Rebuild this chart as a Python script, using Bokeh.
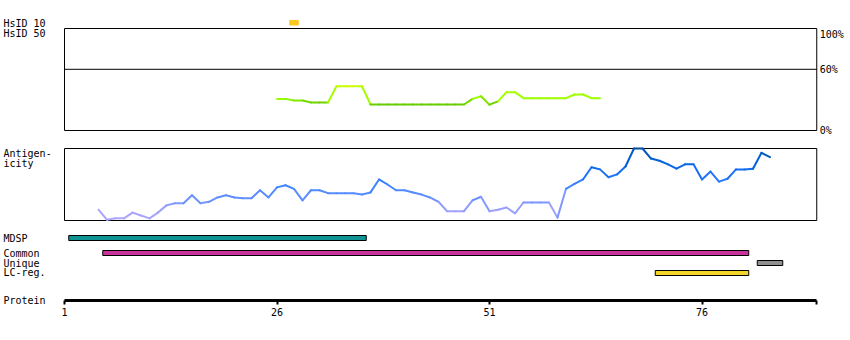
import numpy as np
from bokeh.plotting import figure
from bokeh.models import Range1d, LinearAxis, FixedTicker
from bokeh.core.properties import value
from bokeh.embed import file_html
from bokeh.resources import INLINE

# ---------------- data ----------------
protein_end = 89.5
axis_ticks = [1, 26, 51, 76]

hsid10_res = [28]

hsid50_res = list(range(26, 65))
hsid50_pct = [31, 31, 29.4, 29.4, 27.5, 27.5, 27.5, 43.4, 43.4, 43.4, 43.4,
              25.5, 25.5, 25.5, 25.5, 25.5, 25.5, 25.5, 25.5, 25.5, 25.5, 25.5, 25.5,
              31, 33.5, 25.3, 28.6, 37.6, 37.6, 31.7, 31.7, 31.7, 31.7, 31.7, 31.7,
              35.3, 35.3, 31.7, 31.7]

antigen_res = list(range(5, 85))
antigen_val = [15, 1, 3, 3, 11, 7, 3, 11, 21, 24,
               24, 35, 24, 26, 32, 35, 32, 31, 31, 42,
               32, 46, 49, 44, 28, 42, 42, 38, 38, 38,
               38, 36, 39, 57, 50, 42, 42, 39, 36, 32,
               26, 13, 13, 13, 28, 33, 13, 15, 18, 10,
               25, 25, 25, 25, 4, 44, 51, 57, 74, 71,
               60, 64, 75, 100, 100, 86, 83, 78, 72, 78,
               78, 57, 68, 54, 58, 71, 71, 72, 94, 88]

region_names = ["MDSP", "Common", "Unique", "LC-reg."]
region_start = [2, 6, 83, 71]
region_end = [36, 81, 85, 81]
region_colors = ["#109494", "#c8329b", "#909090", "#f2d42a"]

pct_ticks = [100, 60, 0]
pct_labels = ["100%", "60%", "0%"]

# ---------------- helpers ----------------
def hex2rgb(h):
    return [int(h[i:i + 2], 16) for i in (1, 3, 5)]

def interp_color(v, anchors):
    xs = [a[0] for a in anchors]
    cs = np.array([hex2rgb(a[1]) for a in anchors], dtype=float)
    rgb = [int(round(np.interp(v, xs, cs[:, k]))) for k in range(3)]
    return "#%02x%02x%02x" % tuple(rgb)

antigen_anchors = [(0, "#b0a8ff"), (12, "#a4a2ff"), (22, "#8a9aff"), (30, "#6690ff"),
                   (45, "#4a88ff"), (57, "#2a7aff"), (75, "#0a68e8"), (90, "#005ac8"),
                   (100, "#004c99")]
green_anchors = [(25, "#66cc00"), (28, "#70d400"), (31, "#99ff00"), (38, "#aaff00"), (44, "#ccff00")]

# ---------------- layout constants ----------------
PX_PER_RES = 8.5
X0_PX = 64
W, H = 850, 340

p = figure(width=W, height=H,
           x_range=Range1d(1 - X0_PX / PX_PER_RES, 1 + (W - X0_PX) / PX_PER_RES),
           y_range=Range1d(H, 0),
           output_backend="svg", toolbar_location=None, min_border=0,
           x_axis_location=None, y_axis_location=None)
p.xgrid.visible = False
p.ygrid.visible = False
p.outline_line_color = None
p.background_fill_color = "white"

# HsID panel: 0% at y=130, 100% at y=28 ; antigenicity: 0 at y=220, 100 at y=148
p.extra_y_ranges = {
    "hsid": Range1d((130 - H) / 1.02, 130 / 1.02),
    "antigen": Range1d((220 - H) / 0.72, 220 / 0.72),
}
p.extra_x_ranges = {"px": Range1d(0, W)}

FONT = value("DejaVu Sans Mono")
FS = value("10px")

# HsID 10 bar
p.quad(left=[r - 0.5 for r in hsid10_res], right=[r + 0.5 for r in hsid10_res],
       top=[20], bottom=[24.5], fill_color="#ffc820", line_color="#ffc820", line_width=1)

# HsID 50 panel box
p.quad(left=[1], right=[protein_end], bottom=[0], top=[100], y_range_name="hsid",
       fill_color=None, line_color="black", line_width=1)
p.segment(x0=[1], x1=[protein_end], y0=[60], y1=[60], y_range_name="hsid",
          line_color="black", line_width=1)

# HsID 50 line
gx0, gx1, gy0, gy1, gc = [], [], [], [], []
for i in range(len(hsid50_res) - 1):
    gx0.append(hsid50_res[i]); gx1.append(hsid50_res[i + 1])
    gy0.append(hsid50_pct[i]); gy1.append(hsid50_pct[i + 1])
    gc.append(interp_color((hsid50_pct[i] + hsid50_pct[i + 1]) / 2, green_anchors))
p.segment(x0=gx0, x1=gx1, y0=gy0, y1=gy1, y_range_name="hsid",
          line_color=gc, line_width=2, line_cap="round")

# percentage labels
p.text(x=[protein_end], y=[pct_ticks[0]], text=[pct_labels[0]], y_range_name="hsid",
       x_offset=3, text_font=FONT, text_font_size=FS, text_baseline="top", text_align="left")
p.text(x=[protein_end] * 2, y=pct_ticks[1:], text=pct_labels[1:], y_range_name="hsid",
       x_offset=3, text_font=FONT, text_font_size=FS, text_baseline="middle", text_align="left")

# Antigenicity panel box
p.quad(left=[1], right=[protein_end], bottom=[0], top=[100], y_range_name="antigen",
       fill_color=None, line_color="black", line_width=1)

ax0, ax1, ay0, ay1, ac = [], [], [], [], []
for i in range(len(antigen_res) - 1):
    ax0.append(antigen_res[i]); ax1.append(antigen_res[i + 1])
    ay0.append(antigen_val[i]); ay1.append(antigen_val[i + 1])
    ac.append(interp_color((antigen_val[i] + antigen_val[i + 1]) / 2, antigen_anchors))
p.segment(x0=ax0, x1=ax1, y0=ay0, y1=ay1, y_range_name="antigen",
          line_color=ac, line_width=2, line_cap="round")

# Region bars
bar_tops = [235, 250, 260, 270]
bar_h = 5
p.quad(left=[s - 0.5 for s in region_start], right=[e + 0.5 for e in region_end],
       top=bar_tops, bottom=[t + bar_h for t in bar_tops],
       fill_color=region_colors, line_color="black", line_width=1)

# left labels
left_texts = ["HsID 10", "HsID 50", "Antigen-", "icity"] + region_names + ["Protein"]
left_y = [22.5, 32.5, 153, 163, 238, 253, 262.5, 272, 300]
p.text(x=[3] * len(left_texts), y=left_y, text=left_texts, x_range_name="px",
       text_font=FONT, text_font_size=FS, text_baseline="middle", text_align="left",
       text_color="black")

# Protein axis
axis = LinearAxis(fixed_location=299.5, bounds=(1, protein_end),
                  ticker=FixedTicker(ticks=axis_ticks, minor_ticks=[protein_end]))
axis.axis_line_width = 3
axis.axis_line_color = "black"
axis.major_tick_in = 0
axis.major_tick_out = 4
axis.major_tick_line_width = 2
axis.minor_tick_in = 0
axis.minor_tick_out = 4
axis.minor_tick_line_width = 2
axis.major_label_standoff = 4
axis.major_label_text_font = "DejaVu Sans Mono"
axis.major_label_text_font_size = "10px"
axis.major_label_text_color = "black"
p.add_layout(axis, "below")

open("out.html", "w").write(file_html(p, INLINE))
